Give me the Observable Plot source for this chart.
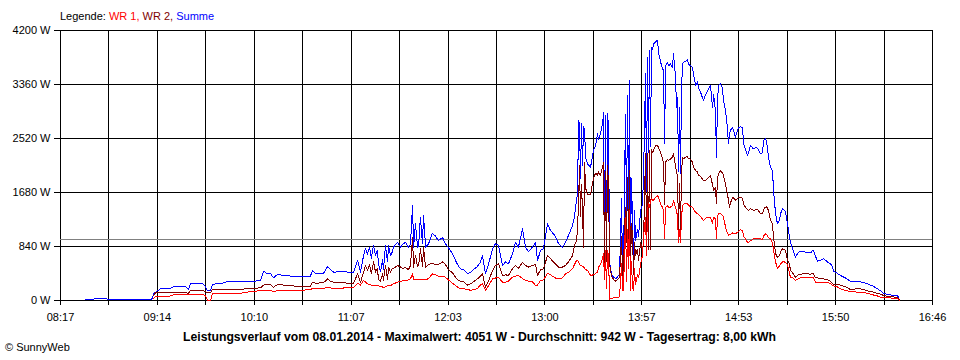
<!DOCTYPE html>
<html><head><meta charset="utf-8">
<script src="https://cdn.jsdelivr.net/npm/d3@7"></script>
<script src="https://cdn.jsdelivr.net/npm/@observablehq/plot@0.6"></script>
<style>
body{margin:0;background:#fff;}
#wrap{position:relative;width:960px;height:360px;font-family:"Liberation Sans",Arial,sans-serif;font-size:11px;color:#000;overflow:hidden;}
#chart{position:absolute;left:0;top:0;}
#legend{position:absolute;left:60px;top:10px;white-space:nowrap;}
#title{position:absolute;left:183px;top:330px;font-weight:bold;font-size:12px;white-space:nowrap;transform-origin:0 0;}
#caption{position:absolute;left:5px;top:341px;white-space:nowrap;}
</style></head><body>
<div id="wrap"><div id="chart"></div>
<div id="legend">Legende: <span style="color:#ff0000">WR 1,</span> <span style="color:#800000">WR 2,</span> <span style="color:#0000ff">Summe</span></div>
<div id="title">Leistungsverlauf vom 08.01.2014 - Maximalwert: 4051 W - Durchschnitt: 942 W - Tagesertrag: 8,00 kWh</div>
<div id="caption">© SunnyWeb</div>
</div>
<script>
// time axis: minutes of day (08:17 = 497, 16:46 = 1006)
const timeStart = 497, timeEnd = 1006;
const timeLabels = ["08:17","09:14","10:10","11:07","12:03","13:00","13:57","14:53","15:50","16:46"];
const yTicks = [0, 840, 1680, 2520, 3360, 4200];
const average = 942;

const times = [
511.6,517.4,523.3,529.1,534.9,540.8,546.6,549.5,550.7,551.3,
552.5,553.6,555.4,558.3,561.2,563.0,567.0,570.0,571.7,572.9,
577.0,580.5,581.6,582.8,584.6,585.7,590.4,594.5,602.1,609.7,
613.7,615.5,617.8,619.6,621.3,623.7,627.2,631.3,637.1,642.9,
644.1,645.9,650.5,652.9,654.6,656.4,660.4,666.3,668.0,670.4,
672.1,673.9,675.0,676.2,677.4,678.5,679.7,680.9,682.0,682.6,
683.8,685.0,685.5,686.7,687.9,688.5,689.6,690.8,691.4,693.7,
695.5,696.6,698.4,700.1,701.3,702.5,703.1,704.2,705.4,706.0,
707.1,708.3,708.9,710.1,711.8,714.1,715.9,717.6,720.0,721.7,
723.5,725.8,728.7,730.5,732.2,734.6,736.3,738.1,740.4,742.2,
743.3,745.1,746.8,749.2,750.9,752.7,755.0,756.8,758.5,760.8,
762.6,764.3,766.7,768.4,770.2,772.5,774.3,775.4,777.2,778.9,
781.3,783.0,785.9,787.7,790.0,791.8,793.5,795.9,797.0,798.2,
798.8,799.4,800.0,800.5,801.1,801.7,802.3,802.9,803.5,804.6,
806.4,808.1,809.3,810.5,811.0,812.2,813.4,814.0,814.5,815.1,
815.7,816.3,816.9,817.5,818.6,819.8,821.0,822.1,823.3,824.5,
825.1,825.6,826.2,826.8,827.4,828.0,828.6,829.1,829.7,830.3,
830.9,831.5,832.1,832.6,833.8,834.4,835.6,836.7,837.3,838.5,
839.1,839.6,840.2,840.8,841.4,842.0,842.6,843.1,844.3,845.5,
846.1,847.2,848.4,849.0,849.6,850.2,851.3,851.9,853.1,854.2,
854.8,856.0,856.6,857.2,857.7,858.3,858.9,859.5,860.1,860.7,
861.8,863.0,863.6,864.8,865.9,866.5,867.7,868.8,869.4,870.6,
872.3,873.5,874.7,876.4,877.6,878.2,879.3,879.9,880.5,881.1,
882.3,883.4,884.0,885.2,886.3,886.9,887.5,888.1,889.3,891.0,
892.2,892.8,893.9,895.1,895.7,896.8,898.0,898.6,899.8,901.5,
902.7,903.9,905.6,906.8,907.4,908.5,909.1,910.3,911.4,912.6,
913.2,914.4,915.5,916.7,917.3,918.4,919.6,920.2,921.4,922.5,
923.1,924.3,926.0,927.8,930.1,933.0,934.8,936.0,936.6,937.7,
938.9,940.6,942.4,944.7,946.5,947.6,948.2,950.6,952.3,955.2,
958.1,962.2,964.0,968.1,971.6,973.9,975.7,977.4,979.7,983.2,
985.6,986.7
];

// Summe (blue)
const summe = [
10,25,25,15,10,12,15,15,30,110,
129,150,182,187,190,213,213,220,170,260,
270,255,215,150,155,255,260,295,295,300,
310,455,415,420,353,405,390,380,373,380,
467,415,420,529,482,440,450,440,430,622,
440,700,804,720,830,660,860,700,780,560,
450,640,480,855,600,860,700,760,830,907,
830,870,907,830,880,1478,830,1193,830,850,
1296,880,1322,830,880,1047,1000,933,980,882,
820,726,560,493,480,415,440,480,530,600,
700,415,560,804,882,860,544,600,570,726,
907,830,1115,830,760,830,907,622,778,804,
1193,1089,1000,882,830,907,1011,1167,1300,1556,
1659,2800,2750,1900,2750,2100,2700,2650,2230,2126,
2074,2333,2400,2600,2500,2600,2750,2929,882,2880,
778,2904,2700,600,415,363,340,360,415,1581,
400,500,1711,2900,1300,3189,1400,3422,700,1900,
1200,620,1400,933,1100,1000,1400,1500,1900,3526,
1700,3785,2300,3889,2400,3941,3900,3993,4018,4051,
3850,3720,3600,3600,2437,3650,3707,3650,3680,3630,
3837,3474,3000,3163,2000,3000,1970,3300,3681,3707,
3720,3750,3680,3650,3630,3526,3344,3400,3300,3240,
3111,3200,3260,3344,3000,3200,2956,2230,3100,3350,
3370,3300,3111,2950,2696,2437,2600,2650,2696,2541,
2650,2696,2700,2696,2437,2350,2256,2300,2411,2359,
2380,2370,2282,2300,2489,2515,2489,2230,2074,2022,
1711,1348,1193,1250,1350,1426,1400,1380,1193,985,
900,804,674,752,767,740,740,778,778,690,
612,622,650,600,570,520,456,420,389,350,
300,300,290,259,220,182,150,114,95,78,
78,10
];

// WR 2 (dark red)
const wr2 = [
null,null,null,null,null,null,null,null,null,78,
120,120,120,122,120,130,130,125,110,155,
155,150,140,120,125,171,171,171,175,190,
197,240,253,249,205,249,240,230,218,225,
285,270,275,337,300,285,275,270,265,415,
280,440,544,470,560,420,600,440,500,330,
300,420,311,544,320,520,440,500,500,544,
520,500,510,480,544,985,520,700,530,540,
804,530,829,520,560,580,560,560,600,560,
480,430,320,300,295,240,260,290,337,380,
415,207,300,467,544,570,389,400,389,493,
544,500,596,544,520,544,560,389,477,493,
700,650,570,520,520,545,600,700,850,933,
1100,1556,2100,1300,1800,1400,829,2150,1750,1650,
1650,1900,1980,1950,2000,1950,2074,2150,560,2000,
600,2100,1800,560,380,330,300,320,360,1000,
340,400,1100,1450,900,1918,800,2022,500,1200,
1000,400,900,700,800,622,900,800,900,2282,
900,2282,800,2333,800,2350,2300,2333,2411,2411,
2380,2307,2200,2126,1500,2150,2200,2180,2200,2230,
2282,2100,2000,1918,1100,1815,1100,2000,2230,2204,
2230,2240,2204,2200,2150,2074,2022,2000,1950,1930,
1867,1867,1900,1944,1800,1711,1750,1504,1900,1970,
2022,1980,1950,1800,1659,1560,1452,1520,1607,1560,
1590,1607,1607,1590,1500,1452,1420,1400,1430,1400,
1410,1420,1348,1348,1420,1452,1460,1400,1250,1193,
985,726,674,700,760,804,790,780,622,570,
467,430,363,400,415,415,410,420,415,353,
350,340,335,321,300,259,255,250,240,215,
171,182,182,150,130,110,100,78,65,55,
41,5
];

// WR 1 (red)
const wr1 = [
null,null,null,null,null,null,null,null,null,26,
67,67,67,67,70,88,88,88,88,88,
90,88,80,0,0,114,114,114,114,145,
150,155,150,150,145,150,150,155,155,175,
182,182,185,207,195,192,192,200,195,270,
240,311,290,260,250,240,235,233,233,230,
220,210,200,215,230,233,233,250,260,285,
300,305,311,320,337,415,321,330,321,321,
321,321,321,321,340,415,400,380,380,360,
320,270,210,185,182,170,160,165,190,240,
259,156,230,337,350,360,285,285,300,363,
380,389,340,311,300,290,233,240,311,320,
420,400,350,337,350,415,440,493,560,622,
622,600,570,544,540,530,520,500,480,467,
389,400,420,440,519,560,648,726,320,780,
180,778,700,20,30,40,45,45,60,570,
150,150,700,1296,300,1100,500,1400,150,600,
200,150,500,250,400,350,570,700,985,1296,
700,1400,1504,1450,1556,1580,1556,1556,1600,1633,
1600,1504,1450,1400,959,1450,1470,1450,1452,1480,
1556,1450,1400,1296,900,1100,900,1300,1478,1500,
1504,1504,1480,1460,1452,1420,1374,1348,1340,1310,
1244,1280,1290,1296,1200,1296,1270,959,1300,1348,
1348,1320,1300,1141,1050,1011,1020,1030,1050,1040,
1060,1070,1100,1089,1000,960,907,907,930,959,
959,959,959,950,1000,1037,1030,980,960,900,
780,600,493,540,570,600,600,590,560,420,
363,363,311,340,363,355,353,353,350,285,
285,285,285,280,260,233,230,210,182,155,
140,130,125,114,85,70,52,50,45,35,
26,5
];

if (summe.length !== times.length || wr1.length !== times.length || wr2.length !== times.length) {
  throw new Error("length mismatch " + times.length + " " + summe.length + " " + wr2.length + " " + wr1.length);
}

const rows = times.map((t, i) => ({t, summe: summe[i], wr1: wr1[i], wr2: wr2[i]}));
const halfTicks = d3.range(19).map(i => timeStart + i * (timeEnd - timeStart) / 18);
const labelFor = d => {
  const i = Math.round((d - timeStart) / (timeEnd - timeStart) * 18);
  return i % 2 ? "" : timeLabels[i / 2];
};

const chart = Plot.plot({
  width: 960, height: 360,
  marginLeft: 60, marginRight: 28, marginTop: 30, marginBottom: 60,
  x: {domain: [timeStart, timeEnd]},
  y: {domain: [0, 4200]},
  style: {fontFamily: '"Liberation Sans", Arial, sans-serif', fontSize: "11px", color: "#000", background: "transparent", overflow: "visible"},
  marks: [
    Plot.gridX(halfTicks, {stroke: "#000", strokeOpacity: 1, shapeRendering: "crispEdges"}),
    Plot.gridY(yTicks, {stroke: "#000", strokeOpacity: 1, shapeRendering: "crispEdges"}),
    Plot.ruleY([average], {stroke: "#808080", shapeRendering: "crispEdges"}),
    Plot.line(rows, {x: "t", y: "summe", stroke: "#0000ff", strokeWidth: 1, shapeRendering: "crispEdges"}),
    Plot.line(rows, {x: "t", y: "wr2", stroke: "#800000", strokeWidth: 1, shapeRendering: "crispEdges"}),
    Plot.line(rows, {x: "t", y: "wr1", stroke: "#ff0000", strokeWidth: 1, shapeRendering: "crispEdges"}),
    Plot.axisX(halfTicks, {tickSize: 5, tickPadding: 8, tickFormat: labelFor, label: null, shapeRendering: "crispEdges"}),
    Plot.axisY(yTicks, {tickSize: 6, tickPadding: 4, tickFormat: d => d + " W", label: null, shapeRendering: "crispEdges"})
  ]
});
document.getElementById("chart").appendChild(chart);

const title = document.getElementById("title");
const w = title.getBoundingClientRect().width;
title.style.transform = "scaleX(" + (593 / w) + ")";
</script>
</body></html>
